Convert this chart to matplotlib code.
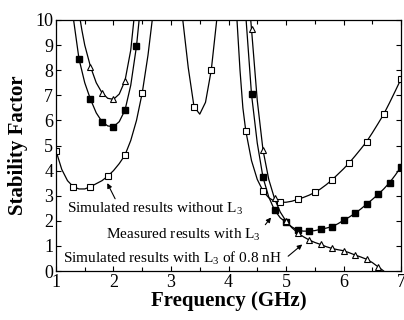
import numpy as np
import matplotlib
matplotlib.use("Agg")
import matplotlib.pyplot as plt

plt.rcParams["font.family"] = ["Liberation Serif", "DejaVu Serif"]
plt.rcParams["mathtext.fontset"] = "custom"
plt.rcParams["mathtext.rm"] = "Liberation Serif"

nan = np.nan

# Simulated results without L3 (open squares): curve and markers
sim_wo_x = [1.0, 1.1, 1.2, 1.3, 1.4, 1.5, 1.6, 1.7, 1.8, 1.9, 2.0, 2.1, 2.2, 2.3, 2.4,
            2.5, 2.6, 2.7, 2.8, nan,
            3.1, 3.2, 3.3, 3.4, 3.5, 3.6, 3.7, 3.8, 3.9, nan,
            4.1, 4.15, 4.2, 4.25, 4.3, 4.4, 4.5, 4.6, 4.7, 4.8, 4.9, 5.0, 5.1, 5.2,
            5.3, 5.4, 5.5, 5.6, 5.7, 5.8, 5.9, 6.0, 6.1, 6.2, 6.3, 6.4, 6.5, 6.6,
            6.7, 6.8, 6.9, 7.0]
sim_wo_y = [4.79, 4.05, 3.6, 3.36, 3.27, 3.27, 3.36, 3.48, 3.6, 3.78, 4.0, 4.28, 4.62, 5.2, 6.0,
            7.1, 8.6, 10.5, 13.0, nan,
            13.0, 10.1, 8.1, 6.55, 6.25, 6.72, 8.0, 10.1, 13.0, nan,
            12.0, 9.9, 8.0, 6.5, 5.59, 4.4, 3.65, 3.19, 2.92, 2.78, 2.74, 2.74, 2.78, 2.85,
            2.93, 3.02, 3.13, 3.27, 3.44, 3.63, 3.85, 4.07, 4.31, 4.58, 4.86, 5.15, 5.5, 5.87,
            6.25, 6.7, 7.17, 7.65]
sim_wo_mx = [1.0, 1.3, 1.6, 1.9, 2.2, 2.5, 3.4, 3.7, 4.3, 4.6, 4.9, 5.2, 5.5, 5.8,
             6.1, 6.4, 6.7, 7.0]
sim_wo_my = [4.79, 3.36, 3.36, 3.78, 4.62, 7.1, 6.55, 8.0, 5.59, 3.19, 2.74, 2.85, 3.13, 3.63,
             4.31, 5.15, 6.25, 7.65]

# Measured results with L3 (filled squares)
meas_x = [1.25, 1.3, 1.4, 1.5, 1.6, 1.7, 1.8, 1.9, 2.0, 2.1, 2.2, 2.3, 2.4, 2.45, 2.5, nan,
          4.25, 4.3, 4.4, 4.5, 4.6, 4.7, 4.8, 4.9, 5.0, 5.1, 5.2, 5.3, 5.4, 5.5, 5.6, 5.7,
          5.8, 5.9, 6.0, 6.1, 6.2, 6.3, 6.4, 6.5, 6.6, 6.7, 6.8, 6.9, 7.0]
meas_y = [11.5, 10.1, 8.45, 7.5, 6.84, 6.3, 5.95, 5.78, 5.75, 5.95, 6.41, 7.4, 8.96, 10.1, 11.5, nan,
          12.0, 10.2, 7.04, 5.1, 3.73, 2.95, 2.43, 2.12, 1.94, 1.76, 1.63, 1.59, 1.59, 1.61, 1.66, 1.71,
          1.77, 1.88, 2.02, 2.15, 2.30, 2.47, 2.66, 2.85, 3.05, 3.27, 3.52, 3.82, 4.15]
meas_mx = [1.4, 1.6, 1.8, 2.0, 2.2, 2.4,
           4.4, 4.6, 4.8, 5.0, 5.2, 5.4, 5.6, 5.8, 6.0, 6.2, 6.4, 6.6, 6.8, 7.0]
meas_my = [8.45, 6.84, 5.95, 5.75, 6.41, 8.96,
           7.04, 3.73, 2.43, 1.94, 1.63, 1.59, 1.66, 1.77, 2.02, 2.30, 2.66, 3.05, 3.52, 4.15]

# Simulated results with L3 of 0.8 nH (open triangles)
sim_l3_x = [1.35, 1.4, 1.45, 1.5, 1.6, 1.7, 1.8, 1.9, 2.0, 2.1, 2.2, 2.3, 2.35, 2.4, nan,
            4.35, 4.4, 4.5, 4.6, 4.7, 4.8, 4.9, 5.0, 5.1, 5.2, 5.3, 5.4, 5.5, 5.6, 5.7,
            5.8, 5.9, 6.0, 6.1, 6.2, 6.3, 6.4, 6.5, 6.6, 6.7, 6.8]
sim_l3_y = [11.5, 10.3, 9.6, 9.0, 8.14, 7.5, 7.10, 6.88, 6.84, 7.05, 7.58, 8.8, 9.9, 11.2, nan,
            11.0, 9.64, 6.8, 4.82, 3.65, 2.89, 2.35, 1.99, 1.73, 1.53, 1.37, 1.24, 1.14, 1.06, 0.97,
            0.90, 0.85, 0.81, 0.73, 0.64, 0.56, 0.47, 0.34, 0.17, 0.0, -0.3]
sim_l3_mx = [1.6, 1.8, 2.0, 2.2,
             4.4, 4.6, 4.8, 5.0, 5.2, 5.4, 5.6, 5.8, 6.0, 6.2, 6.4, 6.6]
sim_l3_my = [8.14, 7.10, 6.84, 7.58,
             9.64, 4.82, 2.89, 1.99, 1.53, 1.24, 1.06, 0.90, 0.81, 0.64, 0.47, 0.17]

fig = plt.figure(figsize=(4.04, 3.2), dpi=100)
ax = fig.add_axes([0.1386, 0.153, 0.854, 0.7845])

lw = 0.9
ax.plot(sim_wo_x, sim_wo_y, color="black", lw=lw)
ax.plot(sim_wo_mx, sim_wo_my, ls="none", marker="s", ms=4, mfc="white", mec="black", mew=0.8)
ax.plot(meas_x, meas_y, color="black", lw=lw)
ax.plot(meas_mx, meas_my, ls="none", marker="s", ms=4.5, mfc="black", mec="black")
ax.plot(sim_l3_x, sim_l3_y, color="black", lw=lw)
ax.plot(sim_l3_mx, sim_l3_my, ls="none", marker="^", ms=5, mfc="white", mec="black", mew=0.8)

ax.set_xlim(1, 7)
ax.set_ylim(0, 10)
ax.set_xticks(range(1, 8))
ax.set_xticks(np.arange(1, 7.01, 0.5), minor=True)
ax.set_yticks(range(0, 11))
ax.tick_params(which="both", direction="in", top=True, right=True, labelsize=13, width=0.8, pad=2)
ax.tick_params(which="major", length=3.5)
ax.tick_params(which="minor", length=3)
for s in ax.spines.values():
    s.set_linewidth(0.9)

ax.set_xlabel("Frequency (GHz)", fontsize=15, fontweight="bold", labelpad=0)
ax.set_ylabel("Stability Factor", fontsize=15, fontweight="bold", labelpad=5)

txt = dict(fontsize=11, ha="left", va="center")
arr = dict(arrowstyle="-|>", color="black", lw=0.8, mutation_scale=7)
ax.text(1.2, 2.5, r"Simulated results without L$_3$", **txt)
ax.annotate("", xy=(1.87, 3.6), xytext=(2.05, 2.78), arrowprops=arr)
ax.text(1.87, 1.43, r"Measured results with L$_3$", **txt)
ax.annotate("", xy=(4.77, 2.22), xytext=(4.61, 1.76), arrowprops=arr)
ax.text(1.12, 0.52, r"Simulated results with L$_3$ of 0.8 nH", **txt)
ax.annotate("", xy=(5.32, 1.13), xytext=(5.0, 0.52), arrowprops=arr)

fig.savefig("out.png", dpi=100)
